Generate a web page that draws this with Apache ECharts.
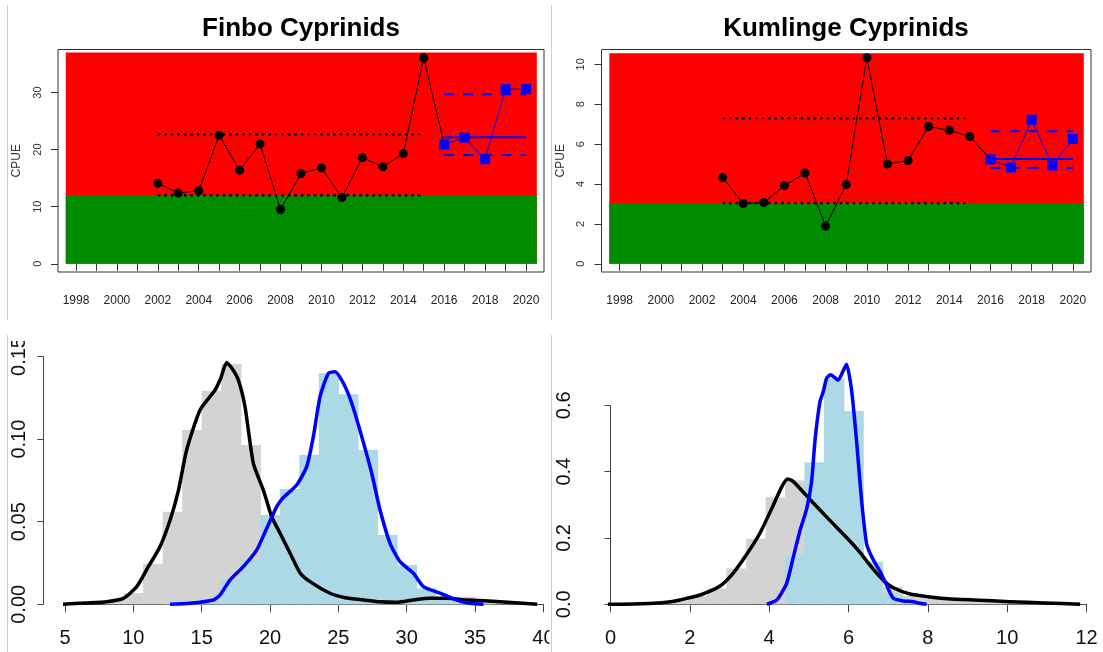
<!DOCTYPE html>
<html>
<head>
<meta charset="utf-8">
<script src="https://cdn.jsdelivr.net/npm/echarts@6/dist/echarts.min.js"></script>
<style>
  html, body { margin: 0; padding: 0; background: #ffffff; }
  #chart { width: 1103px; height: 652px; }
</style>
</head>
<body>
<div id="chart"></div>
<script>
// ---------- CPUE time series (top row) ----------
const yearTicks  = [1998, 1999, 2000, 2001, 2002, 2003, 2004, 2005, 2006, 2007, 2008, 2009,
                    2010, 2011, 2012, 2013, 2014, 2015, 2016, 2017, 2018, 2019, 2020];
const yearLabels = [1998, 2000, 2002, 2004, 2006, 2008, 2010, 2012, 2014, 2016, 2018, 2020];
const zoneYears  = [1997.5, 2020.5];
const recentYears = [2016, 2017, 2018, 2019, 2020];

// Finbo
const finboYears      = [2002, 2003, 2004, 2005, 2006, 2007, 2008, 2009, 2010, 2011, 2012, 2013, 2014, 2015, 2016];
const finboCPUE       = [14.1, 12.4, 12.8, 22.5, 16.4, 21.0, 9.5, 15.8, 16.8, 11.6, 18.6, 17.0, 19.3, 36.1, 20.9];
const finboRecentCPUE = [20.9, 22.1, 18.3, 30.6, 30.6];
const finboRefYears   = [2002, 2015];
const finboRefLevels  = [12.0, 22.7];          // lower / upper reference (dotted)
const finboRecentBand = [19.05, 22.15, 29.7];  // lower, centre, upper (recent period)
const finboZones      = [12.0, 37.0];          // green top, red top
const finboYTicks     = [0, 10, 20, 30];
const finboYRange     = [-1.44, 37.54];

// Kumlinge
const kumYears      = [2003, 2004, 2005, 2006, 2007, 2008, 2009, 2010, 2011, 2012, 2013, 2014, 2015, 2016];
const kumCPUE       = [4.32, 3.02, 3.07, 3.92, 4.55, 1.89, 3.97, 10.33, 5.0, 5.18, 6.88, 6.69, 6.38, 5.23];
const kumRecentCPUE = [5.23, 4.83, 7.22, 4.93, 6.26];
const kumRefYears   = [2003, 2015];
const kumRefLevels  = [3.05, 7.29];
const kumRecentBand = [4.8, 5.25, 6.64];
const kumZones      = [3.05, 10.55];
const kumYTicks     = [0, 2, 4, 6, 8, 10];
const kumYRange     = [-0.413, 10.743];

// ---------- distributions (bottom row) ----------
// Finbo: bin edges, histogram densities, and kernel density curves
const finboBinEdges = [7.86, 9.29, 10.71, 12.14, 13.57, 15.00, 16.43, 17.86, 19.29, 20.71, 22.14, 23.57,
                       25.00, 26.43, 27.86, 29.29, 30.71, 32.14, 33.57, 35.00, 36.43, 37.86, 39.29];
const finboPriorHist  = [0.002, 0.0068, 0.0244, 0.056, 0.1055, 0.1292, 0.1455, 0.0964, 0.038, 0.022, 0.012,
                         0.007, 0.004, 0.002, 0.0015, 0.0015, 0.003, 0.004, 0.0046, 0.003, 0.002, 0.001];
const finboRecentHist = [0, 0, 0, 0.0005, 0.001, 0.002, 0.0151, 0.0268, 0.0541, 0.0698, 0.0904,
                         0.1398, 0.1271, 0.0934, 0.042, 0.0238, 0.0097, 0.0036, 0.0012, 0.0004, 0, 0];
const finboPriorDensX = [4.82, 6.5, 8.05, 9.27, 10.25, 11.1, 11.95, 12.69, 13.3, 13.9, 14.88, 15.98, 16.4,
                         16.83, 17.2, 17.68, 18.17, 18.78, 19.51, 20.12, 20.8, 21.46, 22.2, 22.93, 24.39,
                         25.5, 26.83, 28.0, 29.27, 30.49, 31.7, 32.93, 34.39, 36.83, 38.5, 39.55];
const finboPriorDensY = [0, 0.0008, 0.0016, 0.0036, 0.0107, 0.0228, 0.0349, 0.051, 0.069, 0.0934, 0.1176,
                         0.1297, 0.137, 0.1463, 0.143, 0.1358, 0.1196, 0.0853, 0.0692, 0.053, 0.042, 0.031,
                         0.019, 0.0137, 0.0067, 0.004, 0.0026, 0.0015, 0.0012, 0.0026, 0.0036, 0.0036,
                         0.0026, 0.0016, 0.0006, 0];
const finboRecentDensX = [12.69, 14.15, 15.85, 16.34, 17.07, 18.05, 19.03, 19.76, 20.49, 20.9, 21.95, 22.68,
                          23.17, 23.66, 24.27, 24.76, 25.37, 25.98, 26.71, 27.44, 28.05, 28.78, 29.51,
                          30.49, 31.22, 32.44, 33.66, 34.63, 35.61];
const finboRecentDensY = [0, 0.0006, 0.0026, 0.0056, 0.0147, 0.0228, 0.0329, 0.046, 0.0591, 0.064, 0.0722,
                          0.0833, 0.1015, 0.1257, 0.1398, 0.1408, 0.1338, 0.1217, 0.1015, 0.0793, 0.0571,
                          0.0369, 0.0258, 0.0188, 0.0107, 0.0067, 0.0026, 0.0006, 0];
const finboXTicks = [5, 10, 15, 20, 25, 30, 35, 40];
const finboYDensTicks = [0, 0.05, 0.10, 0.15];

// Kumlinge
const kumBinEdges = [0.96, 1.45, 1.94, 2.43, 2.92, 3.42, 3.91, 4.40, 4.89, 5.38, 5.88, 6.37,
                     6.86, 7.35, 7.84, 8.33, 8.82, 9.32, 9.81, 10.30, 10.79, 11.28, 11.77];
const kumPriorHist  = [0.003, 0.01, 0.025, 0.048, 0.108, 0.198, 0.323, 0.373, 0.30, 0.255, 0.20, 0.115,
                       0.053, 0.025, 0.022, 0.018, 0.014, 0.011, 0.009, 0.007, 0.005, 0.003];
const kumRecentHist = [0, 0, 0, 0, 0, 0, 0.004, 0.148, 0.428, 0.681, 0.583, 0.128,
                       0.03, 0.008, 0, 0, 0, 0, 0, 0, 0, 0];
const kumPriorDensX = [-0.08, 0.6, 1.08, 1.52, 1.75, 2.26, 2.76, 3.1, 3.43, 3.77, 4.1, 4.32, 4.46, 4.61,
                       5.03, 5.53, 6.04, 6.3, 6.5, 6.71, 6.9, 7.13, 7.55, 8.0, 8.5, 9.15, 10.07, 10.94, 11.84];
const kumPriorDensY = [0, 0.001, 0.003, 0.008, 0.013, 0.028, 0.055, 0.095, 0.15, 0.215, 0.298, 0.355,
                       0.378, 0.37, 0.316, 0.253, 0.19, 0.155, 0.124, 0.094, 0.07, 0.05, 0.031, 0.023,
                       0.017, 0.013, 0.008, 0.004, 0];
const kumRecentDensX = [3.94, 4.19, 4.44, 4.61, 4.78, 4.95, 5.07, 5.16, 5.28, 5.36, 5.45, 5.55, 5.65, 5.74,
                        5.85, 5.95, 6.08, 6.21, 6.33, 6.46, 6.62, 6.79, 6.96, 7.13, 7.38, 7.63, 7.8, 7.97];
const kumRecentDensY = [0, 0.013, 0.063, 0.143, 0.223, 0.29, 0.37, 0.5, 0.61, 0.64, 0.682, 0.692, 0.684,
                        0.676, 0.70, 0.724, 0.643, 0.483, 0.313, 0.18, 0.135, 0.1, 0.058, 0.018, 0.01,
                        0.008, 0.003, 0];
const kumXTicks = [0, 2, 4, 6, 8, 10, 12];
const kumYDensTicks = [0, 0.2, 0.4, 0.6];

// ---------- helpers ----------
const FONT = 'Liberation Sans, Arial, Helvetica, sans-serif';
const RED = '#ff0000', GREEN = '#008b00', BLUE = '#0000ff';
const zip = (xs, ys) => xs.map((x, i) => [x, ys[i]]);
const bins = (edges, h) => h.map((v, i) => [edges[i], edges[i + 1], v]).filter(d => d[2] > 0);

function rectSeries(xi, data, color, z) {
  return {
    type: 'custom', xAxisIndex: xi, yAxisIndex: xi, silent: true, z: z, clip: false,
    data: data, encode: { x: [0, 1], y: 2 },
    renderItem: (params, api) => {
      const a = api.coord([api.value(0), 0]);
      const b = api.coord([api.value(1), api.value(2)]);
      return { type: 'rect',
               shape: { x: a[0], y: b[1], width: b[0] - a[0] + 0.6, height: a[1] - b[1] },
               style: { fill: color } };
    }
  };
}

function zone(xi, top, color, z) {
  return rectSeries(xi, [[zoneYears[0], zoneYears[1], top]], color, z);
}

function hline(xi, xs, y, color, width, type, z) {
  return {
    type: 'line', xAxisIndex: xi, yAxisIndex: xi, silent: true, z: z,
    symbol: 'none', data: [[xs[0], y], [xs[xs.length - 1], y]],
    lineStyle: { color: color, width: width, type: type, cap: 'butt' }
  };
}

function timeXAxis(gi) {
  return {
    type: 'value', gridIndex: gi, min: 1997.12, max: 2020.88,
    axisLine: { show: false }, splitLine: { show: false },
    axisTick: { show: true, length: 7, customValues: yearTicks, lineStyle: { color: '#333' } },
    axisLabel: { show: true, customValues: yearLabels, margin: 23, fontSize: 12, color: '#222',
                 fontFamily: FONT, formatter: v => String(Math.round(v)) }
  };
}

function timeYAxis(gi, range, ticks) {
  return {
    type: 'value', gridIndex: gi, min: range[0], max: range[1],
    name: 'CPUE', nameLocation: 'middle', nameGap: 35, nameRotate: 90,
    nameTextStyle: { fontSize: 12, color: '#333', fontFamily: FONT },
    axisLine: { show: false }, splitLine: { show: false },
    axisTick: { show: true, length: 7, customValues: ticks, lineStyle: { color: '#333' } },
    axisLabel: { show: true, customValues: ticks, rotate: 90, margin: 15, fontSize: 11,
                 color: '#333', fontFamily: FONT, formatter: v => String(Math.round(v)) }
  };
}

function densXAxis(gi, ticks) {
  return {
    type: 'value', gridIndex: gi, min: ticks[0], max: ticks[ticks.length - 1],
    interval: ticks[1] - ticks[0], offset: 9,
    axisLine: { show: true, lineStyle: { color: '#444', width: 1 } },
    splitLine: { show: false },
    axisTick: { show: true, length: 8, lineStyle: { color: '#444' } },
    axisLabel: { margin: 15, fontSize: 20, color: '#111', fontFamily: FONT }
  };
}

function densYAxis(gi, ticks, digits) {
  return {
    type: 'value', gridIndex: gi, min: ticks[0], max: ticks[ticks.length - 1],
    interval: ticks[1] - ticks[0], offset: 21.7,
    axisLine: { show: true, lineStyle: { color: '#444', width: 1 } },
    splitLine: { show: false },
    axisTick: { show: true, length: 6, lineStyle: { color: '#444' } },
    axisLabel: { rotate: 90, margin: 14, fontSize: 20, color: '#111', fontFamily: FONT,
                 formatter: v => v.toFixed(digits) }
  };
}

function timePanel(gi, years, cpue, recent, refYears, refLevels, band, zones) {
  return [
    zone(gi, zones[1], RED, 1),
    zone(gi, zones[0], GREEN, 2),
    hline(gi, refYears, refLevels[0], '#000', 2.5, [2.5, 4], 3),
    hline(gi, refYears, refLevels[1], '#000', 2.5, [2.5, 4], 3),
    hline(gi, recentYears, band[0], BLUE, 2, [10, 9], 3),
    hline(gi, recentYears, band[2], BLUE, 2, [10, 9], 3),
    hline(gi, recentYears, band[1], BLUE, 2, 'solid', 3),
    {
      type: 'line', xAxisIndex: gi, yAxisIndex: gi, z: 4, silent: true,
      data: zip(years, cpue), symbol: 'circle', symbolSize: 9,
      itemStyle: { color: '#000' }, lineStyle: { color: '#000', width: 1 }
    },
    {
      type: 'line', xAxisIndex: gi, yAxisIndex: gi, z: 5, silent: true,
      data: zip(recentYears, recent), symbol: 'rect', symbolSize: 10,
      itemStyle: { color: BLUE }, lineStyle: { color: BLUE, width: 1 }
    }
  ];
}

function densCurve(gi, xs, ys, color, z) {
  return {
    type: 'line', xAxisIndex: gi, yAxisIndex: gi, z: z, silent: true, clip: false,
    data: zip(xs, ys), symbol: 'none', smooth: 0.2,
    lineStyle: { color: color, width: 3.5, join: 'round' }
  };
}

const option = {
  animation: false,
  backgroundColor: '#ffffff',
  grid: [
    { left: 58,    top: 49.5,  width: 486,   height: 222.5, show: true, borderColor: '#333', borderWidth: 1, backgroundColor: 'transparent' },
    { left: 601.5, top: 49.5,  width: 489.5, height: 222.5, show: true, borderColor: '#333', borderWidth: 1, backgroundColor: 'transparent' },
    { left: 65,    top: 356.5, width: 478.4, height: 247.8 },
    { left: 610.5, top: 405.3, width: 476,   height: 199 }
  ],
  xAxis: [
    timeXAxis(0), timeXAxis(1),
    densXAxis(2, finboXTicks), densXAxis(3, kumXTicks)
  ],
  yAxis: [
    timeYAxis(0, finboYRange, finboYTicks), timeYAxis(1, kumYRange, kumYTicks),
    densYAxis(2, finboYDensTicks, 2), densYAxis(3, kumYDensTicks, 1)
  ],
  series: [
    ...timePanel(0, finboYears, finboCPUE, finboRecentCPUE, finboRefYears, finboRefLevels, finboRecentBand, finboZones),
    ...timePanel(1, kumYears, kumCPUE, kumRecentCPUE, kumRefYears, kumRefLevels, kumRecentBand, kumZones),
    rectSeries(2, bins(finboBinEdges, finboPriorHist), '#d3d3d3', 1),
    rectSeries(2, bins(finboBinEdges, finboRecentHist), '#add8e6', 2),
    densCurve(2, finboPriorDensX, finboPriorDensY, '#000', 3),
    densCurve(2, finboRecentDensX, finboRecentDensY, BLUE, 4),
    rectSeries(3, bins(kumBinEdges, kumPriorHist), '#d3d3d3', 1),
    rectSeries(3, bins(kumBinEdges, kumRecentHist), '#add8e6', 2),
    densCurve(3, kumPriorDensX, kumPriorDensY, '#000', 3),
    densCurve(3, kumRecentDensX, kumRecentDensY, BLUE, 4)
  ],
  graphic: [
    { type: 'text', x: 301, y: 29, z: 100, silent: true,
      style: { text: 'Finbo Cyprinids', font: 'bold 26px ' + FONT, fill: '#000',
               textAlign: 'center', textVerticalAlign: 'middle' } },
    { type: 'text', x: 846, y: 29, z: 100, silent: true,
      style: { text: 'Kumlinge Cyprinids', font: 'bold 26px ' + FONT, fill: '#000',
               textAlign: 'center', textVerticalAlign: 'middle' } },
    // panel edges of the composed figure
    { type: 'rect', z: 100, silent: true, shape: { x: 8, y: 322, width: 60, height: 19 }, style: { fill: '#fff' } },
    { type: 'rect', z: 100, silent: true, shape: { x: 549.5, y: 620, width: 9, height: 32 }, style: { fill: '#fff' } },
    { type: 'line', z: 101, silent: true, shape: { x1: 7.5, y1: 5, x2: 7.5, y2: 320 }, style: { stroke: '#cfcfcf', lineWidth: 1 } },
    { type: 'line', z: 101, silent: true, shape: { x1: 7.5, y1: 335, x2: 7.5, y2: 652 }, style: { stroke: '#cfcfcf', lineWidth: 1 } },
    { type: 'line', z: 101, silent: true, shape: { x1: 551.5, y1: 5, x2: 551.5, y2: 320 }, style: { stroke: '#cfcfcf', lineWidth: 1 } },
    { type: 'line', z: 101, silent: true, shape: { x1: 551.5, y1: 335, x2: 551.5, y2: 652 }, style: { stroke: '#cfcfcf', lineWidth: 1 } }
  ]
};

const chart = echarts.init(document.getElementById('chart'), null, { renderer: 'canvas' });
chart.setOption(option);
</script>
</body>
</html>
